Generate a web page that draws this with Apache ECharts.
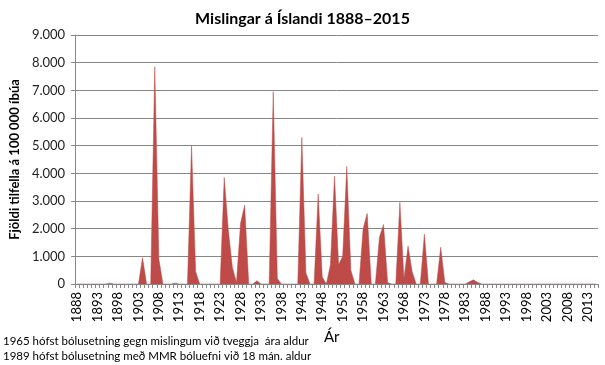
<!DOCTYPE html>
<html>
<head>
<meta charset="utf-8">
<script src="https://cdn.jsdelivr.net/npm/echarts@6/dist/echarts.min.js"></script>
<style>
html,body{margin:0;padding:0;background:#fff;}
#c{width:605px;height:365px;}
</style>
</head>
<body>
<div id="c"></div>
<script>
var firstYear = 1888;
var lastYear = 2015;
var years = [];
for (var y = firstYear; y <= lastYear; y++) years.push(String(y));

// Cases per 100 000 inhabitants, 1888–2015
var cases1888_1937 = [
  0, 0, 0, 0, 0, 0, 0, 0, 30, 0,
  0, 0, 0, 0, 0, 0, 950, 0, 0, 7850,
  900, 0, 0, 0, 30, 0, 0, 0, 5000, 450,
  0, 0, 0, 0, 0, 0, 3850, 1950, 600, 50,
  2200, 2850, 0, 0, 120, 0, 0, 0, 6950, 200
];
var cases1938_1987 = [
  0, 0, 0, 0, 0, 5300, 400, 0, 0, 3250,
  250, 0, 700, 3900, 700, 1000, 4250, 500, 0, 0,
  2000, 2550, 0, 0, 1700, 2150, 50, 0, 0, 2950,
  200, 1370, 450, 0, 0, 1800, 0, 0, 0, 1330,
  50, 0, 0, 0, 0, 0, 80, 150, 60, 0
];
var cases1988_2015 = [
  0, 0, 0, 0, 0, 0, 0, 0, 0, 0,
  0, 0, 0, 0, 0, 0, 0, 0, 0, 0,
  0, 0, 0, 0, 0, 0, 0, 0
];
var cases = cases1888_1937.concat(cases1938_1987, cases1988_2015);

var titleText = 'Mislingar á Íslandi 1888–2015';
var yName = 'Fjöldi tilfella á 100 000 íbúa';
var xName = 'Ár';
var notes = [
  '1965 hófst bólusetning gegn mislingum við tveggja  ára aldur',
  '1989 hófst bólusetning með MMR bóluefni við 18 mán. aldur'
];

var FONT = 'Lato, "Open Sans", sans-serif';
var chart = echarts.init(document.getElementById('c'), null, {renderer: 'canvas'});
chart.setOption({
  backgroundColor: '#ffffff',
  animation: false,
  textStyle: {fontFamily: FONT},
  title: {
    text: titleText,
    left: 'center',
    top: 6,
    textStyle: {fontFamily: FONT, fontSize: 16, fontWeight: 'bold', color: '#000'}
  },
  grid: {left: 73, right: 7, top: 35, bottom: 81},
  xAxis: {
    type: 'category',
    data: years,
    boundaryGap: true,
    axisLine: {lineStyle: {color: '#868686', width: 1}},
    axisTick: {show: true, interval: 0, length: 4, lineStyle: {color: '#868686'}},
    axisLabel: {
      interval: 4,
      rotate: 90,
      margin: 8,
      fontSize: 13,
      color: '#000',
      fontFamily: FONT
    },
    splitLine: {show: false}
  },
  yAxis: {
    type: 'value',
    min: 0,
    max: 9000,
    interval: 1000,
    name: yName,
    nameLocation: 'middle',
    nameGap: 50,
    nameTextStyle: {fontFamily: FONT, fontSize: 13, fontWeight: 'bold', color: '#000'},
    axisLine: {show: true, lineStyle: {color: '#868686'}},
    axisTick: {show: true, length: 4, lineStyle: {color: '#868686'}},
    axisLabel: {
      fontSize: 13,
      color: '#222',
      margin: 10,
      fontFamily: FONT,
      formatter: function (v) {
        return v >= 1000 ? Math.floor(v / 1000) + '.' + String(v % 1000).padStart(3, '0') : String(v);
      }
    },
    splitLine: {lineStyle: {color: '#868686', width: 1}}
  },
  series: [{
    type: 'line',
    data: cases,
    symbol: 'none',
    smooth: false,
    lineStyle: {width: 0.5, color: '#be4b48'},
    itemStyle: {color: '#be4b48'},
    areaStyle: {color: '#be4b48', opacity: 1}
  }],
  graphic: [
    {type: 'text', left: 324, top: 330,
     style: {text: xName, font: '15px ' + FONT, fill: '#000'}},
    {type: 'text', left: 3, top: 335,
     style: {text: notes[0], font: '11.5px ' + FONT, fill: '#000'}},
    {type: 'text', left: 3, top: 350,
     style: {text: notes[1], font: '11.5px ' + FONT, fill: '#000'}}
  ]
});
</script>
</body>
</html>
